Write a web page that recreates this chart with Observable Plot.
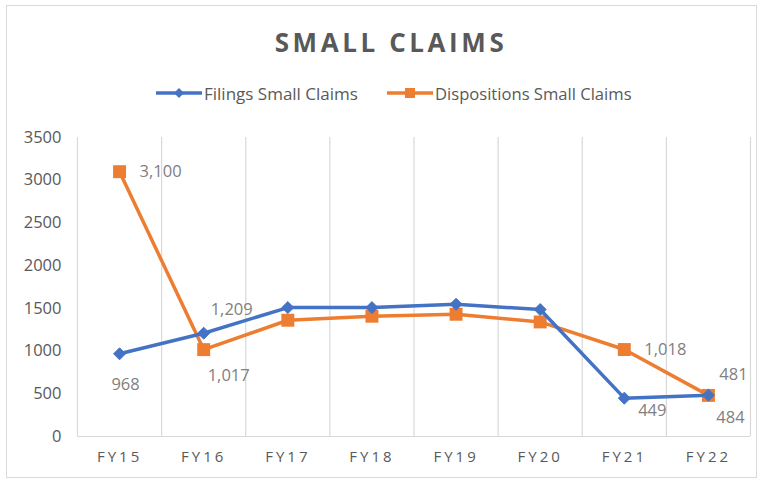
<!DOCTYPE html>
<html><head><meta charset="utf-8">
<script src="https://cdn.jsdelivr.net/npm/d3@7"></script>
<script src="https://cdn.jsdelivr.net/npm/@observablehq/plot@0.6"></script>
<style>
body{margin:0;background:#fff;}
#wrap{position:relative;width:762px;height:481px;overflow:hidden;font-family:"Open Sans",sans-serif;background:#fff;}
#frame{position:absolute;left:6px;top:5px;width:751px;height:473px;border:1px solid #d9d9d9;box-sizing:border-box;pointer-events:none;z-index:5;}
#head{position:absolute;left:0;top:0;width:762px;height:120px;}
#title{position:absolute;left:10px;width:762px;top:24px;text-align:center;font-weight:bold;font-size:26px;letter-spacing:3.6px;color:#595959;line-height:36px;}
.leg{position:absolute;top:83px;height:20px;display:flex;align-items:center;font-size:17px;color:#595959;white-space:nowrap;}
.leg svg{margin-right:2px;}
#chart{position:absolute;left:0;top:120px;}
#chart g[aria-label="x-axis tick label"] text{letter-spacing:3px;}
</style></head>
<body>
<div id="wrap">
  <div id="head">
    <div id="title">SMALL CLAIMS</div>
    <div class="leg" id="leg0" style="left:156px"></div>
    <div class="leg" id="leg1" style="left:387px;font-size:16.6px"></div>
  </div>
  <div id="chart"></div>
  <div id="frame"></div>
</div>
<script>
const categories = ["FY15","FY16","FY17","FY18","FY19","FY20","FY21","FY22"];
const filings = [968, 1209, 1509, 1509, 1548, 1486, 449, 484];
const dispositions = [3100, 1017, 1361, 1408, 1431, 1341, 1018, 481];
const seriesNames = ["Filings Small Claims", "Dispositions Small Claims"];
const yTicks = [0, 500, 1000, 1500, 2000, 2500, 3000, 3500];
const colors = ["#4472C4", "#ED7D31"];

// label placement (style, separate from data)
const labelPlacement = [
  {s:0, i:0, dx:6, dy:31},
  {s:0, i:1, dx:28, dy:-23},
  {s:0, i:6, dx:28, dy:13},
  {s:0, i:7, dx:22, dy:23},
  {s:1, i:0, dx:41, dy:0},
  {s:1, i:1, dx:25, dy:26},
  {s:1, i:6, dx:41, dy:0},
  {s:1, i:7, dx:25, dy:-21}
];

const seriesValues = [filings, dispositions];
const rows = seriesValues.map((vals, s) => vals.map((v, i) => ({s, i, cat: categories[i], value: v, series: seriesNames[s]})));

const fmt = d3.format(",");
const labelMarks = labelPlacement.map(p => Plot.text([rows[p.s][p.i]], {
  x: "i", y: "value", text: d => fmt(d.value), dx: p.dx, dy: p.dy,
  fill: "#808080", fontSize: 16.5, textAnchor: "middle"
}));

const boundaries = d3.range(categories.length + 1).map(i => i - 0.5);

const chart = Plot.plot({
  width: 762, height: 361,
  marginLeft: 77, marginRight: 12, marginTop: 17, marginBottom: 45,
  style: {background: "transparent", color: "#595959", fontFamily: "'Open Sans', sans-serif"},
  x: {domain: [-0.5, categories.length - 0.5]},
  y: {domain: [0, 3500]},
  marks: [
    Plot.ruleX(boundaries, {stroke: "#d9d9d9", strokeWidth: 1.2}),
    Plot.ruleY([0], {stroke: "#d9d9d9", strokeWidth: 1.2}),
    Plot.axisY({ticks: yTicks, tickFormat: d => String(d), tickSize: 0, tickPadding: 16, fontSize: 16.5, label: null}),
    Plot.axisX({ticks: d3.range(categories.length), tickFormat: i => categories[i], tickSize: 0, tickPadding: 15, fontSize: 15, label: null}),
    Plot.line(rows[1], {x: "i", y: "value", stroke: colors[1], strokeWidth: 3.5}),
    Plot.dot(rows[1], {x: "i", y: "value", symbol: "square", r: 7.3, fill: colors[1], stroke: "none"}),
    Plot.line(rows[0], {x: "i", y: "value", stroke: colors[0], strokeWidth: 3.5}),
    Plot.dot(rows[0], {x: "i", y: "value", symbol: "diamond2", r: 5.4, fill: colors[0], stroke: colors[0], strokeWidth: 1}),
    ...labelMarks
  ]
});
document.getElementById("chart").appendChild(chart);

// legend
seriesNames.forEach((name, s) => {
  const el = document.getElementById("leg" + s);
  const sw = d3.create("svg").attr("width", 46).attr("height", 16);
  sw.append("line").attr("x1", 0).attr("x2", 46).attr("y1", 8).attr("y2", 8).attr("stroke", colors[s]).attr("stroke-width", 3.5);
  if (s === 0) sw.append("path").attr("d", "M23,3L28,8L23,13L18,8Z").attr("fill", colors[s]);
  else sw.append("rect").attr("x", 18).attr("y", 3).attr("width", 10).attr("height", 10).attr("fill", colors[s]);
  el.appendChild(sw.node());
  const t = document.createElement("span"); t.textContent = name; el.appendChild(t);
});
</script>
</body></html>
